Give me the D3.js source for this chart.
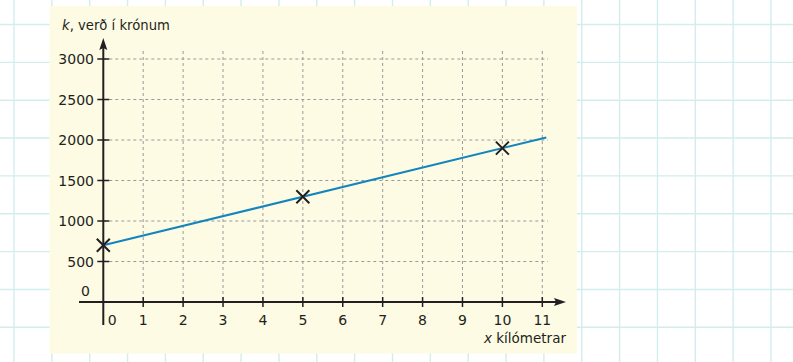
<!DOCTYPE html>
<html>
<head>
<meta charset="utf-8">
<script src="https://cdn.jsdelivr.net/npm/d3@7"></script>
<style>
  html, body { margin: 0; padding: 0; background: #ffffff; }
  svg { display: block; }
  text { font-family: "DejaVu Sans", sans-serif; fill: #231f20; }
</style>
</head>
<body>
<svg id="chart" width="793" height="362"></svg>
<script>
// ---- data ----
const xTicks = [0, 1, 2, 3, 4, 5, 6, 7, 8, 9, 10, 11];
const yTicks = [500, 1000, 1500, 2000, 2500, 3000];
const pointX = [0, 5, 10];
const pointK = [700, 1300, 1900];
const lineX = [0, 11.1];
const lineK = [700, 2032];
const yTitle = "verð í krónum";
const yVar = "k,";
const xTitle = "kílómetrar";
const xVar = "x";

// ---- layout ----
const svg = d3.select("#chart");
const W = 793, H = 362;
const x = d3.scaleLinear().domain([0, 11]).range([103.3, 542.3]);
const y = d3.scaleLinear().domain([0, 3000]).range([302, 59]);

// background graph paper
const gridColor = "#d3eded";
const bg = svg.append("g");
const step = 37.85;
for (let gx = 14; gx < W; gx += step) {
  bg.append("line").attr("x1", gx).attr("x2", gx).attr("y1", 0).attr("y2", H)
    .attr("stroke", gridColor).attr("stroke-width", 1.4);
}
for (let gy = 24.5; gy < H; gy += step) {
  bg.append("line").attr("x1", 0).attr("x2", W).attr("y1", gy).attr("y2", gy)
    .attr("stroke", gridColor).attr("stroke-width", 1.4);
}

// panel
svg.append("rect").attr("x", 49.5).attr("y", 6).attr("width", 527.5).attr("height", 347.5)
  .attr("fill", "#fdfbe3");

// dashed grid
const dash = svg.append("g").attr("stroke", "#9a9a9a").attr("stroke-width", 1)
  .attr("stroke-dasharray", "3,3");
yTicks.forEach(v => {
  dash.append("line").attr("x1", x(0)).attr("x2", 548).attr("y1", y(v)).attr("y2", y(v));
});
xTicks.filter(v => v > 0).forEach(v => {
  dash.append("line").attr("x1", x(v)).attr("x2", x(v)).attr("y1", 51).attr("y2", y(0));
});

// axes
const axisColor = "#231f20";
svg.append("line").attr("x1", 79).attr("x2", 560).attr("y1", y(0)).attr("y2", y(0))
  .attr("stroke", axisColor).attr("stroke-width", 2);
svg.append("path").attr("d", `M566,${y(0)} L554,${y(0) - 4} L556,${y(0)} L554,${y(0) + 4} Z`)
  .attr("fill", axisColor);
svg.append("line").attr("x1", x(0)).attr("x2", x(0)).attr("y1", 325).attr("y2", 44)
  .attr("stroke", axisColor).attr("stroke-width", 2);
svg.append("path").attr("d", `M${x(0)},38 L${x(0) - 4},50 L${x(0)},48 L${x(0) + 4},50 Z`)
  .attr("fill", axisColor);

// ticks
const ticks = svg.append("g").attr("stroke", axisColor).attr("stroke-width", 1.5);
yTicks.forEach(v => {
  ticks.append("line").attr("x1", x(0) - 6).attr("x2", x(0) + 6).attr("y1", y(v)).attr("y2", y(v));
});
xTicks.filter(v => v > 0).forEach(v => {
  ticks.append("line").attr("x1", x(v)).attr("x2", x(v)).attr("y1", y(0) - 5).attr("y2", y(0) + 5);
});

// tick labels
const lab = svg.append("g").style("font-size", "14px");
yTicks.forEach(v => {
  lab.append("text").attr("x", 94).attr("y", y(v) + 5.3).attr("text-anchor", "end").text(v);
});
lab.append("text").attr("x", 90).attr("y", 296).attr("text-anchor", "end").text("0");
xTicks.forEach(v => {
  lab.append("text").attr("x", v === 0 ? x(0) + 9 : x(v)).attr("y", 324.5)
    .attr("text-anchor", "middle").text(v);
});

// axis titles
const t1 = svg.append("text").attr("x", 62).attr("y", 30).style("font-size", "13.2px");
t1.append("tspan").style("font-style", "italic").text("k");
t1.append("tspan").text(", " + yTitle);
const t2 = svg.append("text").attr("x", 566).attr("y", 342.5).attr("text-anchor", "end")
  .style("font-size", "13.5px");
t2.append("tspan").style("font-style", "italic").text(xVar);
t2.append("tspan").text(" " + xTitle);

// line
const lineData = lineX.map((d, i) => ({ x: d, k: lineK[i] }));
svg.append("path").datum(lineData)
  .attr("d", d3.line().x(d => x(d.x)).y(d => y(d.k)))
  .attr("fill", "none").attr("stroke", "#1385be").attr("stroke-width", 2);

// markers
const pts = pointX.map((d, i) => ({ x: d, k: pointK[i] }));
const s = 6.5;
svg.append("g").selectAll("path").data(pts).join("path")
  .attr("d", d => {
    const cx = x(d.x), cy = y(d.k);
    return `M${cx - s},${cy - s}L${cx + s},${cy + s}M${cx - s},${cy + s}L${cx + s},${cy - s}`;
  })
  .attr("stroke", "#231f20").attr("stroke-width", 2).attr("fill", "none");
</script>
</body>
</html>
